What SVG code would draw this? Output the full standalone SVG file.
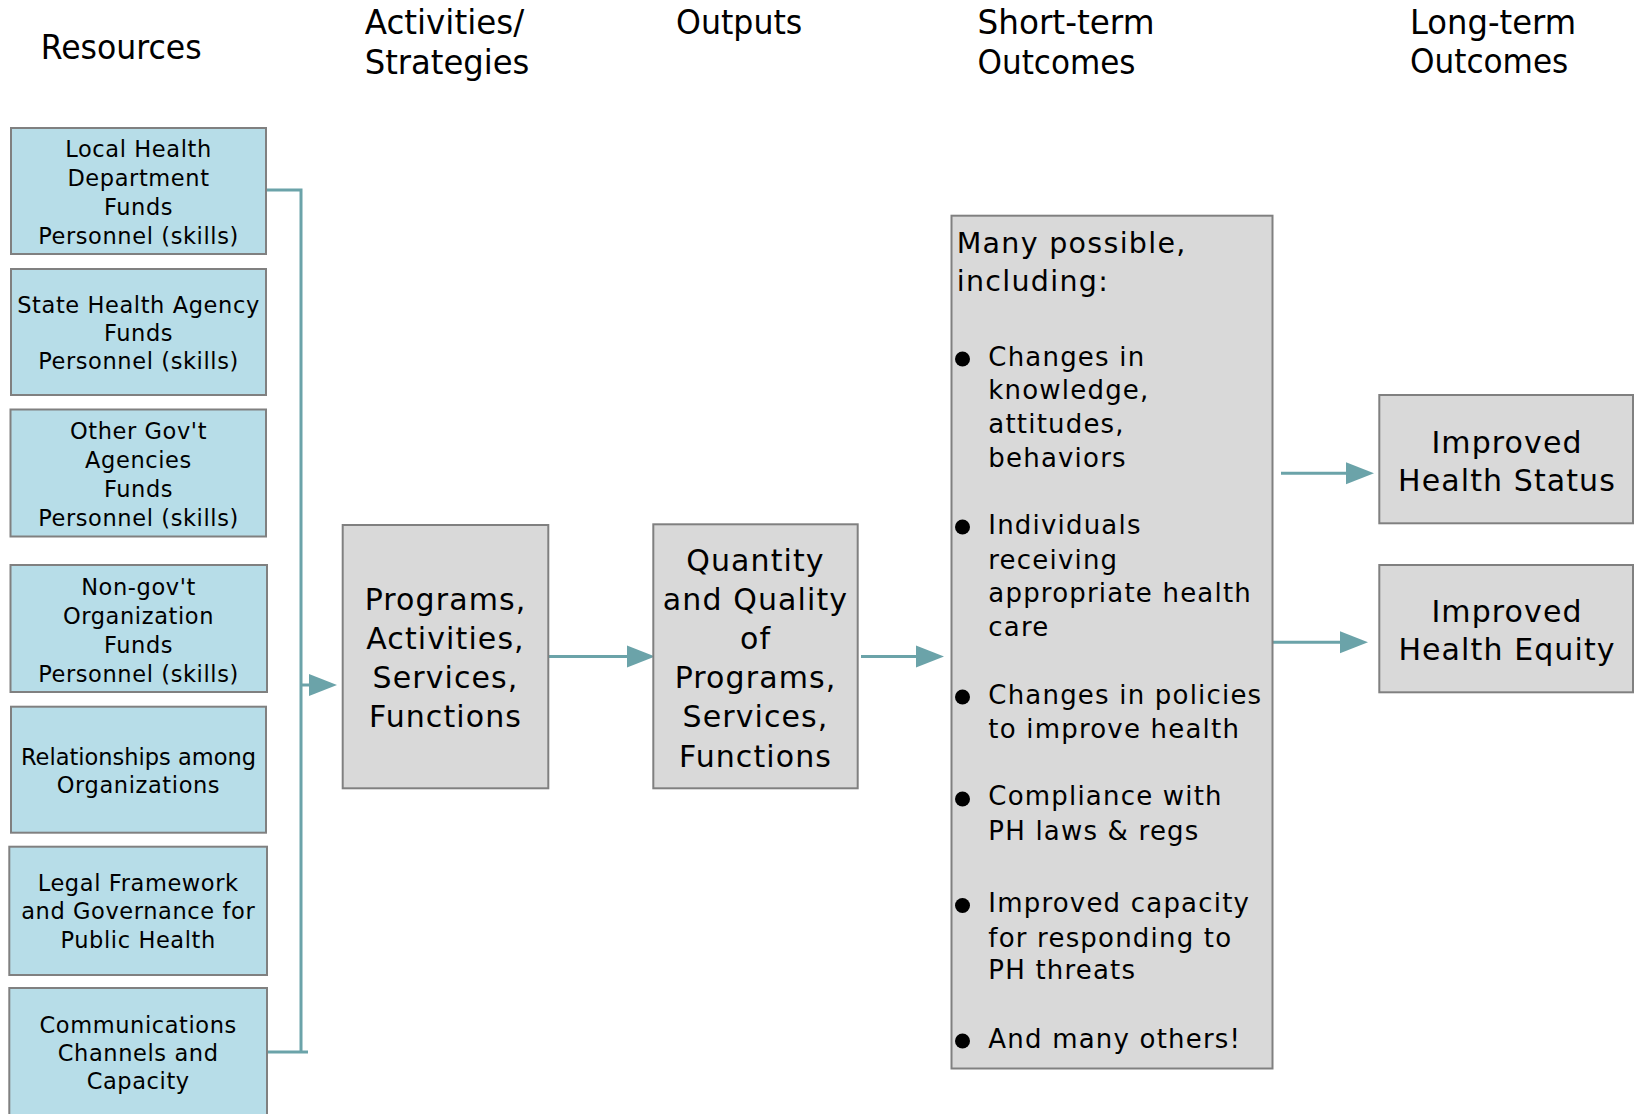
<svg xmlns="http://www.w3.org/2000/svg" width="1634" height="1114" viewBox="0 0 1634 1114">
<style>
.bg{fill:#ffffff}
.res{fill:#B7DDE8;stroke:#808080;stroke-width:2}
.gry{fill:#D9D9D9;stroke:#808080;stroke-width:2}
.hd{font-family:"DejaVu Sans","Liberation Sans",sans-serif;font-size:33px;fill:#000}
.rt{font-family:"DejaVu Sans","Liberation Sans",sans-serif;font-size:22.5px;letter-spacing:0.6px;fill:#000;text-anchor:middle}
.mt{font-family:"DejaVu Sans","Liberation Sans",sans-serif;font-size:30px;letter-spacing:1.1px;fill:#000;text-anchor:middle}
.st{font-family:"DejaVu Sans","Liberation Sans",sans-serif;font-size:28.5px;letter-spacing:1.3px;fill:#000}
.bt{font-family:"DejaVu Sans","Liberation Sans",sans-serif;font-size:26px;letter-spacing:1.2px;fill:#000}
.con{fill:none;stroke:#6BA3A9;stroke-width:3}
.dot{fill:#000}
</style>
<defs>
<marker id="ah" markerUnits="userSpaceOnUse" markerWidth="28" markerHeight="24" viewBox="0 0 28 24" refX="22" refY="12" orient="auto">
<path d="M0,1 L28,12 L0,23 Z" fill="#6BA3A9"/>
</marker>
</defs>
<rect class="bg" x="0" y="0" width="1634" height="1114"/>

<g id="headers">
<text class="hd" x="40.7" y="59" textLength="161" lengthAdjust="spacingAndGlyphs">Resources</text>
<text class="hd" x="364.7" y="34.4" textLength="159.5" lengthAdjust="spacingAndGlyphs">Activities/</text>
<text class="hd" x="364.7" y="74" textLength="164.7" lengthAdjust="spacingAndGlyphs">Strategies</text>
<text class="hd" x="676" y="34.3" textLength="126.3" lengthAdjust="spacingAndGlyphs">Outputs</text>
<text class="hd" x="977.5" y="34.3" textLength="177" lengthAdjust="spacingAndGlyphs">Short-term</text>
<text class="hd" x="977.5" y="73.5" textLength="158" lengthAdjust="spacingAndGlyphs">Outcomes</text>
<text class="hd" x="1410" y="33.5" textLength="166" lengthAdjust="spacingAndGlyphs">Long-term</text>
<text class="hd" x="1410" y="73" textLength="158.3" lengthAdjust="spacingAndGlyphs">Outcomes</text>
</g>

<g id="connectors">
<polyline class="con" points="266,190 301,190 301,1052"/>
<line class="con" x1="267" y1="1052" x2="308" y2="1052"/>
<line class="con" x1="301" y1="685" x2="331" y2="685" marker-end="url(#ah)"/>
<line class="con" x1="548" y1="656.5" x2="649" y2="656.5" marker-end="url(#ah)"/>
<line class="con" x1="861" y1="656.5" x2="938" y2="656.5" marker-end="url(#ah)"/>
<line class="con" x1="1281" y1="473.3" x2="1368" y2="473.3" marker-end="url(#ah)"/>
<line class="con" x1="1273" y1="642.3" x2="1362" y2="642.3" marker-end="url(#ah)"/>
</g>

<g id="local-health">
<rect class="res" x="11" y="128" width="255" height="126"/>
<text class="rt" x="138.5" y="157">Local Health</text>
<text class="rt" x="138.5" y="186">Department</text>
<text class="rt" x="138.5" y="214.5">Funds</text>
<text class="rt" x="138.5" y="243.5">Personnel (skills)</text>
</g>
<g id="state-health">
<rect class="res" x="11" y="269" width="255" height="126"/>
<text class="rt" x="138.5" y="312.7">State Health Agency</text>
<text class="rt" x="138.5" y="341">Funds</text>
<text class="rt" x="138.5" y="369.3">Personnel (skills)</text>
</g>
<g id="other-govt">
<rect class="res" x="10.5" y="409.5" width="255.5" height="127"/>
<text class="rt" x="138.5" y="438.5">Other Gov't</text>
<text class="rt" x="138.5" y="467.5">Agencies</text>
<text class="rt" x="138.5" y="496.5">Funds</text>
<text class="rt" x="138.5" y="525.5">Personnel (skills)</text>
</g>
<g id="non-govt">
<rect class="res" x="10.5" y="565" width="256.5" height="127"/>
<text class="rt" x="138.5" y="595">Non-gov't</text>
<text class="rt" x="138.5" y="624">Organization</text>
<text class="rt" x="138.5" y="653">Funds</text>
<text class="rt" x="138.5" y="682">Personnel (skills)</text>
</g>
<g id="relationships">
<rect class="res" x="11" y="706.7" width="255" height="126"/>
<text class="rt" x="138.5" y="765" style="letter-spacing:0px">Relationships among</text>
<text class="rt" x="138.5" y="792.7">Organizations</text>
</g>
<g id="legal">
<rect class="res" x="9.3" y="846.7" width="257.7" height="128.3"/>
<text class="rt" x="138.2" y="891">Legal Framework</text>
<text class="rt" x="138.2" y="919.3">and Governance for</text>
<text class="rt" x="138.2" y="948.3">Public Health</text>
</g>
<g id="communications">
<rect class="res" x="9.3" y="988" width="257.7" height="140"/>
<text class="rt" x="138.2" y="1032.7">Communications</text>
<text class="rt" x="138.2" y="1060.7">Channels and</text>
<text class="rt" x="138.2" y="1089.3">Capacity</text>
</g>

<g id="programs">
<rect class="gry" x="342.7" y="525" width="205.6" height="263.3"/>
<text class="mt" x="445.5" y="610">Programs,</text>
<text class="mt" x="445.5" y="649.3">Activities,</text>
<text class="mt" x="445.5" y="688.3">Services,</text>
<text class="mt" x="445.5" y="727.3">Functions</text>
</g>
<g id="outputs">
<rect class="gry" x="653.3" y="524.3" width="204.4" height="264"/>
<text class="mt" x="755.5" y="571">Quantity</text>
<text class="mt" x="755.5" y="610">and Quality</text>
<text class="mt" x="755.5" y="649.3">of</text>
<text class="mt" x="755.5" y="688.3">Programs,</text>
<text class="mt" x="755.5" y="727.3">Services,</text>
<text class="mt" x="755.5" y="766.7">Functions</text>
</g>

<g id="short-term">
<rect class="gry" x="951.5" y="215.7" width="321" height="852.8"/>
<text class="st" x="956.7" y="253.3">Many possible,</text>
<text class="st" x="956.7" y="290.7">including:</text>
<circle class="dot" cx="962.5" cy="359" r="7.5"/>
<text class="bt" x="988.3" y="365.7">Changes in</text>
<text class="bt" x="988.3" y="399">knowledge,</text>
<text class="bt" x="988.3" y="433">attitudes,</text>
<text class="bt" x="988.3" y="466.7">behaviors</text>
<circle class="dot" cx="962.5" cy="527" r="7.5"/>
<text class="bt" x="988.3" y="534">Individuals</text>
<text class="bt" x="988.3" y="568.5">receiving</text>
<text class="bt" x="988.3" y="602">appropriate health</text>
<text class="bt" x="988.3" y="635.5">care</text>
<circle class="dot" cx="962.5" cy="697" r="7.5"/>
<text class="bt" x="988.3" y="703.8">Changes in policies</text>
<text class="bt" x="988.3" y="737.5">to improve health</text>
<circle class="dot" cx="962.5" cy="799" r="7.5"/>
<text class="bt" x="988.3" y="805.3">Compliance with</text>
<text class="bt" x="988.3" y="840">PH laws &amp; regs</text>
<circle class="dot" cx="962.5" cy="905.5" r="7.5"/>
<text class="bt" x="988.3" y="912.3">Improved capacity</text>
<text class="bt" x="988.3" y="946.5">for responding to</text>
<text class="bt" x="988.3" y="979">PH threats</text>
<circle class="dot" cx="962.5" cy="1041" r="7.5"/>
<text class="bt" x="988.3" y="1047.8">And many others!</text>
</g>

<g id="health-status">
<rect class="gry" x="1379.3" y="395" width="253.7" height="128.3"/>
<text class="mt" x="1507" y="452.7">Improved</text>
<text class="mt" x="1507" y="491">Health Status</text>
</g>
<g id="health-equity">
<rect class="gry" x="1379.3" y="565" width="253.7" height="127.3"/>
<text class="mt" x="1507" y="621.7">Improved</text>
<text class="mt" x="1507" y="660">Health Equity</text>
</g>
</svg>
